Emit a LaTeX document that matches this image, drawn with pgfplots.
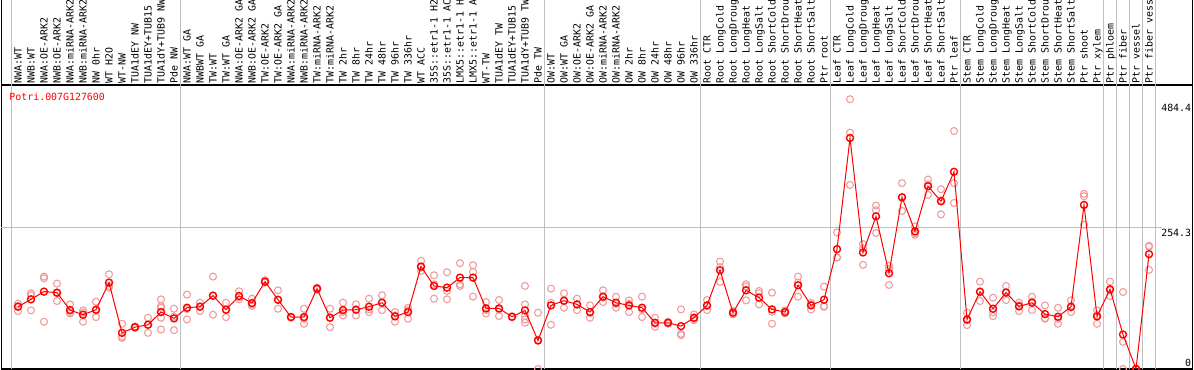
\documentclass[border=0pt]{standalone}
\usepackage{pgfplots}
\pgfplotsset{compat=1.18}
\usepackage{fontspec}
\newfontfamily\monofont{DejaVu Sans Mono}
\definecolor{gridgray}{RGB}{192,192,192}
\definecolor{repred}{RGB}{240,156,156}
\definecolor{meanred}{RGB}{255,0,0}
\newcommand{\lblfont}{\monofont\fontsize{9.9}{11}\selectfont}
\begin{document}
\begin{tikzpicture}
\begin{axis}[
  name=ax,
  scale only axis,
  width=1191pt, height=284pt,
  xmin=-1.285, xmax=90.33,
  ymin=0, ymax=510,
  clip mode=individual,
  axis line style={line width=1.2pt, black},
  xtick={0,...,87},
  xticklabels={NWA:WT,NWB:WT,NWA:OE-ARK2,NWB:OE-ARK2,NWA:miRNA-ARK2,NWB:miRNA-ARK2,NW 0hr,WT H2O,WT-NW,TUA1dEY NW,TUA1dEY+TUB15,TUA1dY+TUB9 NW,Pde NW,
    NWA:WT GA,NWBWT GA,TW:WT,TW:WT GA,NWA:OE-ARK2 GA,NWB:OE-ARK2 GA,TW:OE-ARK2,TW:OE-ARK2 GA,NWA:miRNA-ARK2,NWB:miRNA-ARK2,TW:miRNA-ARK2,TW:miRNA-ARK2,TW 2hr,TW 8hr,TW 24hr,TW 48hr,TW 96hr,TW 336hr,WT ACC,35S::etr1-1 H2,35S::etr1-1 AC,LMX5::etr1-1 H,LMX5::etr1-1 A,WT-TW,TUA1dEY TW,TUA1dEY+TUB15,TUA1dY+TUB9 TW,Pde TW,
    OW:WT,OW:WT GA,OW:OE-ARK2,OW:OE-ARK2 GA,OW:miRNA-ARK2,OW:miRNA-ARK2,OW 2hr,OW 8hr,OW 24hr,OW 48hr,OW 96hr,OW 336hr,
    Root CTR,Root LongCold,Root LongDroug,Root LongHeat,Root LongSalt,Root ShortCold,Root ShortDrou,Root ShortHeat,Root ShortSalt,Ptr root,
    Leaf CTR,Leaf LongCold,Leaf LongDroug,Leaf LongHeat,Leaf LongSalt,Leaf ShortCold,Leaf ShortDrou,Leaf ShortHeat,Leaf ShortSalt,Ptr leaf,
    Stem CTR,Stem LongCold,Stem LongDroug,Stem LongHeat,Stem LongSalt,Stem ShortCold,Stem ShortDrou,Stem ShortHeat,Stem ShortSalt,Ptr shoot,Ptr xylem,
    Ptr phloem,Ptr fiber,Ptr vessel,Ptr fiber vess},
  xticklabel pos=upper,
  xticklabel style={rotate=90, anchor=west, font=\lblfont, inner xsep=1.5pt, inner ysep=0pt, text height=7pt, text depth=0pt},
  ytick=\empty,
  major tick length=0pt,
]
% group separators (extend up through the label band)
\pgfplotsinvokeforeach{-0.5,12.5,40.5,52.5,62.5,72.5,83.5,84.5,85.5,86.5,87.5}{
  \draw[gridgray, line width=1pt] (axis cs:#1,0) -- ([yshift=85pt]axis cs:#1,510);
}
\draw[gridgray, line width=1pt] (axis cs:-1.285,254.3) -- (axis cs:88.0,254.3);
% replicates
\addplot[only marks, mark=o, mark size=3.5pt, repred, mark options={line width=1.1pt}] table[row sep=\\] {
x y\\
0 117.2\\ 0 104.0\\ 0 113.0\\
1 135.9\\ 1 132.3\\ 1 105.2\\
2 165.9\\ 2 162.9\\ 2 84.8\\
3 153.3\\ 3 122.0\\ 3 135.9\\
4 116.0\\ 4 99.8\\ 4 102.2\\
5 105.2\\ 5 84.8\\ 5 101.0\\
6 120.8\\ 6 105.2\\ 6 93.2\\
7 170.1\\ 7 149.1\\ 7 146.1\\
8 81.2\\ 8 57.7\\ 8 55.9\\
9 76.4\\ 9 75.1\\ 9 73.9\\
10 92.0\\ 10 80.0\\ 10 64.9\\
11 125.0\\ 11 110.0\\ 11 92.0\\ 11 70.9\\ 11 113.0\\
12 108.2\\ 12 69.7\\ 12 93.8\\
13 133.5\\ 13 89.0\\ 13 107.6\\
14 119.0\\ 14 104.0\\ 14 112.4\\
15 165.9\\ 15 97.4\\ 15 131.7\\
16 119.0\\ 16 93.2\\ 16 107.0\\
17 139.5\\ 17 125.0\\ 17 128.7\\
18 126.2\\ 18 113.0\\ 18 116.0\\
19 159.3\\ 19 156.3\\ 19 155.1\\
20 141.3\\ 20 108.2\\ 20 123.8\\
21 93.8\\ 21 93.2\\ 21 92.6\\
22 108.2\\ 22 81.2\\ 22 90.2\\
23 146.1\\ 23 144.3\\ 23 142.5\\
24 108.2\\ 24 75.1\\ 24 92.6\\
25 119.0\\ 25 96.2\\ 25 102.2\\
26 116.0\\ 26 96.2\\ 26 107.0\\
27 126.2\\ 27 102.2\\ 27 107.0\\
28 132.3\\ 28 105.8\\ 28 119.0\\
29 102.2\\ 29 84.8\\ 29 96.2\\
30 110.0\\ 30 90.2\\ 30 105.8\\
31 194.2\\ 31 176.1\\ 31 182.2\\
32 168.3\\ 32 126.2\\ 32 152.1\\
33 173.7\\ 33 125.0\\ 33 140.1\\
34 190.0\\ 34 152.1\\ 34 149.1\\
35 186.4\\ 35 174.3\\ 35 129.9\\
36 120.2\\ 36 99.8\\ 36 105.8\\
37 123.8\\ 37 95.0\\ 37 107.0\\
38 94.4\\ 38 93.8\\ 38 93.2\\
39 149.1\\ 39 116.0\\ 39 95.0\\ 39 89.0\\ 39 83.0\\
40 101.0\\ 40 0\\ 40 52.3\\
41 144.3\\ 41 79.4\\ 41 119.0\\
42 135.9\\ 42 110.0\\ 42 122.0\\
43 126.2\\ 43 105.8\\ 43 116.0\\
44 114.2\\ 44 92.0\\ 44 100.4\\
45 141.3\\ 45 120.2\\ 45 128.1\\
46 129.9\\ 46 110.0\\ 46 117.2\\
47 123.2\\ 47 102.2\\ 47 117.2\\
48 129.9\\ 48 93.2\\ 48 107.0\\
49 92.0\\ 49 75.7\\ 49 81.2\\
50 84.8\\ 50 81.2\\ 50 83.0\\
51 107.0\\ 51 63.1\\ 51 60.7\\
52 98.0\\ 52 87.8\\ 52 90.2\\
53 123.8\\ 53 105.8\\ 53 113.0\\
54 193.0\\ 54 156.3\\ 54 182.8\\
55 104.0\\ 55 98.0\\ 55 101.0\\
56 152.1\\ 56 123.2\\ 56 148.5\\
57 140.1\\ 57 135.9\\ 57 116.0\\
58 137.1\\ 58 81.2\\ 58 102.8\\
59 105.2\\ 59 99.8\\ 59 101.6\\
60 165.9\\ 60 129.9\\ 60 155.1\\
61 119.0\\ 61 107.0\\ 61 116.0\\
62 147.9\\ 62 113.0\\ 62 111.8\\
63 245.3\\ 63 200.2\\ 63 200.2\\
64 484.4\\ 64 424.4\\ 64 330.6\\
65 224.2\\ 65 187.0\\ 65 216.4\\
66 293.4\\ 66 244.1\\ 66 285.0\\
67 185.2\\ 67 150.9\\ 67 179.2\\
68 333.7\\ 68 283.8\\ 68 307.8\\
69 256.1\\ 69 241.1\\ 69 244.1\\
70 340.3\\ 70 312.6\\ 70 331.9\\
71 322.8\\ 71 277.7\\ 71 303.0\\
72 427.4\\ 72 298.2\\ 72 333.7\\
73 101.0\\ 73 78.8\\ 73 87.2\\
74 156.9\\ 74 122.0\\ 74 137.7\\
75 128.1\\ 75 95.0\\ 75 101.6\\
76 149.1\\ 76 123.8\\ 76 138.3\\
77 119.0\\ 77 104.0\\ 77 114.2\\
78 129.9\\ 78 105.8\\ 78 121.4\\
79 114.2\\ 79 90.2\\ 79 91.4\\
80 110.0\\ 80 81.2\\ 80 90.2\\
81 123.2\\ 81 102.2\\ 81 110.0\\
82 314.4\\ 82 310.2\\ 82 259.1\\
83 105.2\\ 83 81.2\\ 83 96.8\\
84 156.9\\ 84 131.1\\ 84 141.3\\
85 138.3\\ 85 48.7\\ 85 0\\
86 0\\ 86 0\\ 86 0\\
87 221.2\\ 87 178.0\\ 87 219.4\\
};
% means
\addplot[meanred, line width=1pt, mark=o, mark size=3.5pt, mark options={line width=1.4pt}] table[row sep=\\] {
x y\\
0 111.8\\ 1 125.0\\ 2 138.9\\ 3 137.1\\ 4 105.8\\ 5 97.4\\ 6 106.4\\ 7 155.1\\ 8 64.9\\ 9 75.1\\
10 79.4\\ 11 102.2\\ 12 90.8\\ 13 110.0\\ 14 111.8\\ 15 131.7\\ 16 106.4\\ 17 131.1\\ 18 118.4\\ 19 156.9\\
20 124.4\\ 21 93.2\\ 22 93.2\\ 23 144.3\\ 24 92.0\\ 25 105.8\\ 26 106.4\\ 27 111.8\\ 28 119.0\\ 29 94.4\\
30 102.2\\ 31 184.0\\ 32 149.1\\ 33 146.1\\ 34 164.1\\ 35 164.1\\ 36 108.8\\ 37 108.8\\ 38 93.8\\ 39 105.2\\
40 51.1\\ 41 114.2\\ 42 122.6\\ 43 116.0\\ 44 102.2\\ 45 129.9\\ 46 119.0\\ 47 114.2\\ 48 110.0\\ 49 83.0\\
50 83.0\\ 51 77.0\\ 52 92.0\\ 53 114.2\\ 54 177.3\\ 55 101.0\\ 56 141.3\\ 57 128.1\\ 58 107.0\\ 59 102.2\\
60 150.3\\ 61 114.2\\ 62 124.4\\ 63 215.2\\ 64 414.8\\ 65 209.2\\ 66 274.1\\ 67 171.9\\ 68 308.4\\ 69 247.1\\
70 328.2\\ 71 301.2\\ 72 354.1\\ 73 89.0\\ 74 138.9\\ 75 108.2\\ 76 137.1\\ 77 112.4\\ 78 119.0\\ 79 98.6\\
80 93.8\\ 81 111.8\\ 82 294.6\\ 83 94.4\\ 84 143.1\\ 85 61.9\\ 86 0\\ 87 206.2\\
};
\node[anchor=north west, inner sep=0pt, text=meanred, font=\lblfont] at ([xshift=8pt, yshift=-8pt]rel axis cs:0,1) {Potri.007G127600};
\node[anchor=east, inner sep=0pt, font=\lblfont] at ([xshift=-1pt, yshift=261.5pt]rel axis cs:1,0) {484.4};
\node[anchor=east, inner sep=0pt, font=\lblfont] at ([xshift=-1pt, yshift=136.3pt]rel axis cs:1,0) {254.3};
\node[anchor=east, inner sep=0pt, font=\lblfont] at ([xshift=-1pt, yshift=6.5pt]rel axis cs:1,0) {0};
\end{axis}
\draw[black, line width=1.2pt] (ax.north west) -- ++(0pt,85pt);
\draw[black, line width=1.2pt] (ax.north east) -- ++(0pt,85pt);
\pgfresetboundingbox
\path ([xshift=-1.3pt,yshift=-1pt]ax.south west) rectangle ([xshift=1.7pt,yshift=85pt]ax.north east);
\end{tikzpicture}
\end{document}
